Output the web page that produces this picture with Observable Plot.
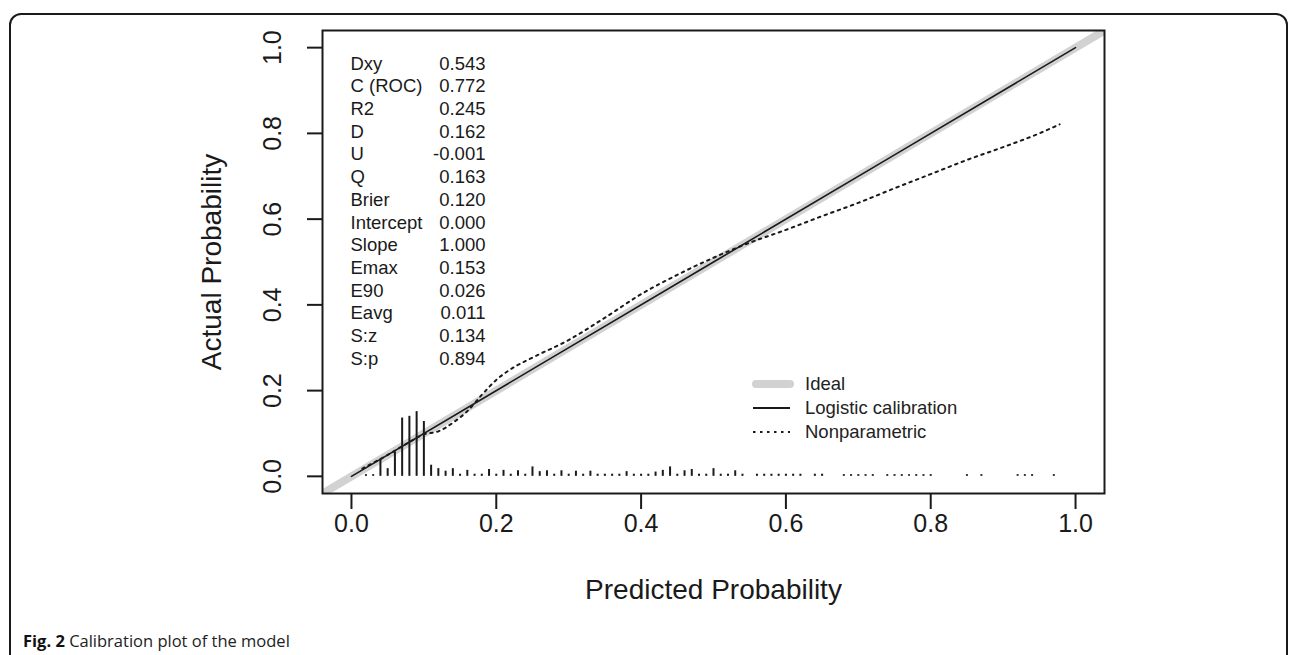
<!DOCTYPE html>
<html>
<head>
<meta charset="utf-8">
<script src="https://cdn.jsdelivr.net/npm/d3@7"></script>
<script src="https://cdn.jsdelivr.net/npm/@observablehq/plot@0.6"></script>
<style>
  html, body { margin: 0; padding: 0; background: #fff; width: 1292px; height: 655px; overflow: hidden; }
  #frame { position: absolute; left: 9px; top: 13px; width: 1279px; height: 700px; border: 2px solid #1a1a1a; border-radius: 12px; box-sizing: border-box; }
  #chart { position: absolute; left: 0; top: 0; }
  #legend { position: absolute; left: 752px; top: 372px; font-family: "Liberation Sans", Arial, sans-serif; font-size: 18.5px; color: #222; }
  #legend .row { height: 24px; display: flex; align-items: center; }
  #legend svg { width: 42px; height: 12px; margin-right: 11px; }
  #caption { position: absolute; left: 23px; top: 629px; font-family: "Open Sans", "Noto Sans", sans-serif; font-size: 16.5px; color: #222; }
  #caption b { color: #111; }
</style>
</head>
<body>
<div id="frame"></div>
<div id="chart"></div>
<div id="legend"></div>
<div id="caption"><b>Fig. 2</b> Calibration plot of the model</div>
<script>
// ---- data ----
const xTicks = [0, 0.2, 0.4, 0.6, 0.8, 1.0];
const yTicks = [0, 0.2, 0.4, 0.6, 0.8, 1.0];

const statLabels = ["Dxy", "C (ROC)", "R2", "D", "U", "Q", "Brier", "Intercept", "Slope", "Emax", "E90", "Eavg", "S:z", "S:p"];
const statValues = ["0.543", "0.772", "0.245", "0.162", "-0.001", "0.163", "0.120", "0.000", "1.000", "0.153", "0.026", "0.011", "0.134", "0.894"];

const idealX = [-0.04, 1.04];
const idealY = [-0.04, 1.04];

const logisticX = [0, 0.25, 0.5, 0.75, 1];
const logisticY = [0, 0.25, 0.5, 0.75, 1];

const nonparX = [0.015, 0.05, 0.08, 0.10, 0.12, 0.14, 0.16, 0.18, 0.20, 0.22, 0.25, 0.30, 0.35, 0.40, 0.45, 0.50, 0.55, 0.60, 0.65, 0.70, 0.75, 0.80, 0.85, 0.90, 0.95, 0.978];
const nonparY = [0.018, 0.05, 0.08, 0.098, 0.105, 0.125, 0.152, 0.19, 0.225, 0.25, 0.277, 0.318, 0.37, 0.425, 0.47, 0.51, 0.545, 0.575, 0.607, 0.638, 0.672, 0.705, 0.738, 0.768, 0.80, 0.821];

const spikeX = [0.02, 0.03, 0.04, 0.05, 0.06, 0.07, 0.08, 0.09, 0.10, 0.11, 0.12, 0.13, 0.14, 0.15, 0.16, 0.17, 0.18, 0.19, 0.20,
  0.21, 0.22, 0.23, 0.24, 0.25, 0.26, 0.27, 0.28, 0.29, 0.30, 0.31, 0.32, 0.33, 0.34, 0.35, 0.36, 0.37, 0.38, 0.39, 0.40,
  0.41, 0.42, 0.43, 0.44, 0.45, 0.46, 0.47, 0.48, 0.49, 0.50, 0.51, 0.52, 0.53, 0.54, 0.56, 0.57, 0.58, 0.59, 0.60, 0.61, 0.62,
  0.64, 0.65, 0.68, 0.69, 0.70, 0.71, 0.72, 0.74, 0.75, 0.76, 0.77, 0.78, 0.79, 0.80, 0.85, 0.87, 0.92, 0.93, 0.94, 0.97];
const spikeH = [0.004, 0.004, 0.040, 0.018, 0.057, 0.136, 0.140, 0.151, 0.128, 0.026, 0.018, 0.012, 0.018, 0.005, 0.014, 0.005, 0.005, 0.016, 0.005,
  0.014, 0.005, 0.013, 0.005, 0.022, 0.011, 0.013, 0.005, 0.013, 0.005, 0.012, 0.005, 0.012, 0.005, 0.005, 0.005, 0.005, 0.011, 0.005, 0.005,
  0.005, 0.010, 0.014, 0.022, 0.005, 0.013, 0.016, 0.005, 0.005, 0.018, 0.005, 0.005, 0.013, 0.005, 0.005, 0.005, 0.005, 0.005, 0.005, 0.005, 0.005,
  0.005, 0.005, 0.004, 0.004, 0.004, 0.004, 0.004, 0.004, 0.004, 0.004, 0.004, 0.004, 0.004, 0.004, 0.004, 0.004, 0.004, 0.004, 0.004, 0.004];

const legendLabels = ["Ideal", "Logistic calibration", "Nonparametric"];

// ---- build tables ----
const ideal = idealX.map((x, i) => ({x, y: idealY[i]}));
const logistic = logisticX.map((x, i) => ({x, y: logisticY[i]}));
const nonpar = nonparX.map((x, i) => ({x, y: nonparY[i]}));
const spikes = spikeX.map((x, i) => ({x, h: spikeH[i]}));

const FONT = "Liberation Sans, Arial, sans-serif";
const INK = "#1a1a1a";
const fmt = d3.format(".1f");

const plot = Plot.plot({
  width: 1292,
  height: 625,
  marginLeft: 322,
  marginRight: 188,
  marginTop: 30,
  marginBottom: 132,
  style: {fontFamily: FONT, color: INK, background: "transparent"},
  x: {domain: [-0.04, 1.04]},
  y: {domain: [-0.04, 1.04]},
  marks: [
    Plot.line(ideal, {x: "x", y: "y", stroke: "#d2d2d2", strokeWidth: 8, clip: true, strokeLinecap: "butt"}),
    Plot.ruleX(spikes, {x: "x", y1: 0, y2: "h", stroke: INK, strokeWidth: 2}),
    Plot.line(logistic, {x: "x", y: "y", stroke: INK, strokeWidth: 1.6}),
    Plot.line(nonpar, {x: "x", y: "y", stroke: INK, strokeWidth: 2, strokeDasharray: "2.5,4.5", curve: "monotone-x"}),
    Plot.frame({stroke: INK, strokeWidth: 2}),
    Plot.axisX({ticks: xTicks, tickSize: 16, tickPadding: 5, tickFormat: fmt, fontSize: 25, label: null, stroke: INK, strokeWidth: 2}),
    Plot.axisY({ticks: yTicks, tickSize: 15, tickFormat: () => "", label: null, stroke: INK, strokeWidth: 2}),
    Plot.text(yTicks, {y: d => d, text: d => fmt(d), frameAnchor: "left", dx: -50, rotate: -90, textAnchor: "middle", fontSize: 25, fill: INK}),
    Plot.text(["Predicted Probability"], {frameAnchor: "bottom", dy: 105, textAnchor: "middle", fontSize: 28, fill: INK}),
    Plot.text(["Actual Probability"], {frameAnchor: "left", dx: -110, rotate: -90, textAnchor: "middle", fontSize: 28, fill: INK}),
    Plot.text([statLabels.join("\n")], {frameAnchor: "top-left", dx: 28, dy: 23, lineAnchor: "top", lineHeight: 1.227, fontSize: 18.5, textAnchor: "start", fill: INK}),
    Plot.text([statValues.join("\n")], {frameAnchor: "top-left", dx: 163, dy: 23, lineAnchor: "top", lineHeight: 1.227, fontSize: 18.5, textAnchor: "end", fill: INK})
  ]
});
document.getElementById("chart").appendChild(plot);

// legend (inside plot area, bottom-right)
const legendSamples = [
  {stroke: "#d2d2d2", width: 8, dash: null},
  {stroke: INK, width: 1.8, dash: null},
  {stroke: INK, width: 2, dash: "2.5,4.5"}
];
const leg = document.getElementById("legend");
legendLabels.forEach((lab, i) => {
  const s = legendSamples[i];
  const row = document.createElement("div");
  row.className = "row";
  row.innerHTML = `<svg viewBox="0 0 42 12"><line x1="${s.width > 4 ? 4 : 1}" x2="38" y1="6" y2="6" stroke="${s.stroke}" stroke-width="${s.width}" stroke-linecap="${s.width > 4 ? "round" : "butt"}" ${s.dash ? `stroke-dasharray="${s.dash}"` : ""}/></svg><span>${lab}</span>`;
  leg.appendChild(row);
});
</script>
</body>
</html>
